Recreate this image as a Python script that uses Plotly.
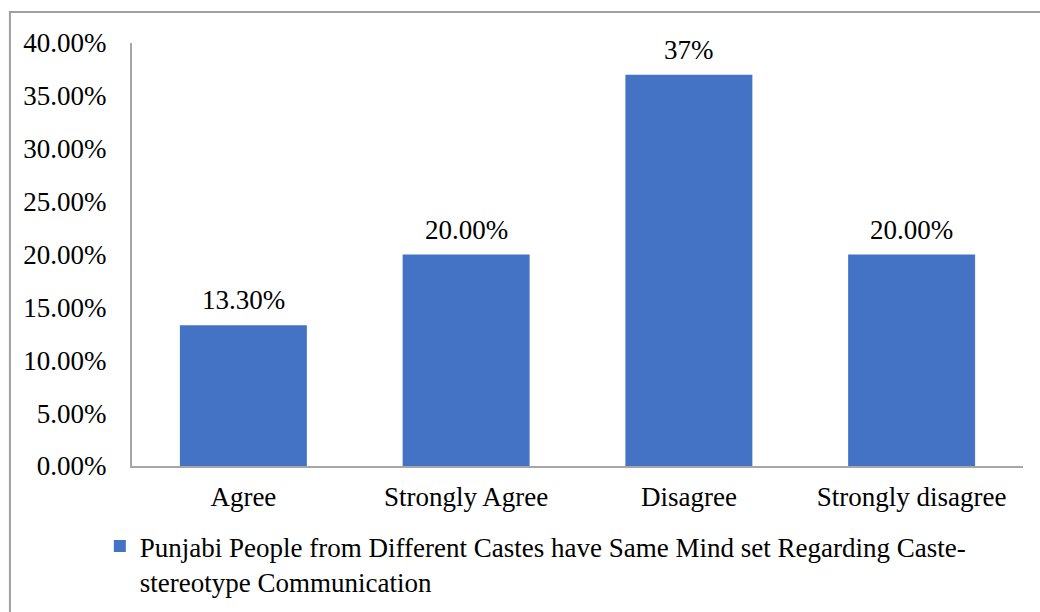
import plotly.graph_objects as go

# Survey responses
categories = ["Agree", "Strongly Agree", "Disagree", "Strongly disagree"]
shares = [0.133, 0.20, 0.37, 0.20]
share_labels = ["13.30%", "20.00%", "37%", "20.00%"]
series_name = ("Punjabi People from Different Castes have Same Mind set Regarding Caste-"
               "<br>stereotype Communication")
y_ticks = [0, 0.05, 0.10, 0.15, 0.20, 0.25, 0.30, 0.35, 0.40]

BAR_BLUE = "#4472C4"
AXIS_GREY = "#A6A6A6"
FONT = "Liberation Serif"
FS = 27

fig = go.Figure()
fig.add_trace(go.Bar(
    x=categories,
    y=shares,
    name=series_name,
    marker=dict(color=BAR_BLUE, line=dict(width=0)),
    showlegend=True,
))

# Value labels above each bar
for cat, val, lab in zip(categories, shares, share_labels):
    fig.add_annotation(
        x=cat, y=val, text=lab, showarrow=False,
        xanchor="center", yanchor="bottom", yshift=8,
        font=dict(family=FONT, size=FS, color="#000000"),
    )

# Outer chart frame
fig.add_shape(
    type="rect", xref="paper", yref="paper",
    x0=-0.137, x1=1.05, y0=-0.5, y1=1.073,
    line=dict(color="#A0A0A0", width=2), fillcolor="rgba(0,0,0,0)",
    layer="below",
)

fig.update_layout(
    width=1040, height=612,
    margin=dict(l=132, r=17, t=43, b=146, autoexpand=False),
    paper_bgcolor="white", plot_bgcolor="white",
    font=dict(family=FONT, size=FS, color="#000000"),
    bargap=0.43,
    xaxis=dict(
        showline=True, linecolor=AXIS_GREY, linewidth=2,
        showgrid=False, ticks="", ticklabelstandoff=6,
        tickfont=dict(family=FONT, size=FS),
    ),
    yaxis=dict(
        range=[0, 0.40], tickvals=y_ticks, tickformat=".2%",
        showline=True, linecolor=AXIS_GREY, linewidth=2,
        showgrid=False, zeroline=False, ticks="", ticklabelstandoff=18,
        tickfont=dict(family=FONT, size=FS),
    ),
    legend=dict(
        orientation="h", xref="container", yref="container",
        x=0.096, y=0.147, xanchor="left", yanchor="top",
        valign="top", font=dict(family=FONT, size=FS),
        itemsizing="constant", bgcolor="rgba(0,0,0,0)",
        tracegroupgap=0, itemwidth=30,
    ),
)

fig.write_html("out.html")
